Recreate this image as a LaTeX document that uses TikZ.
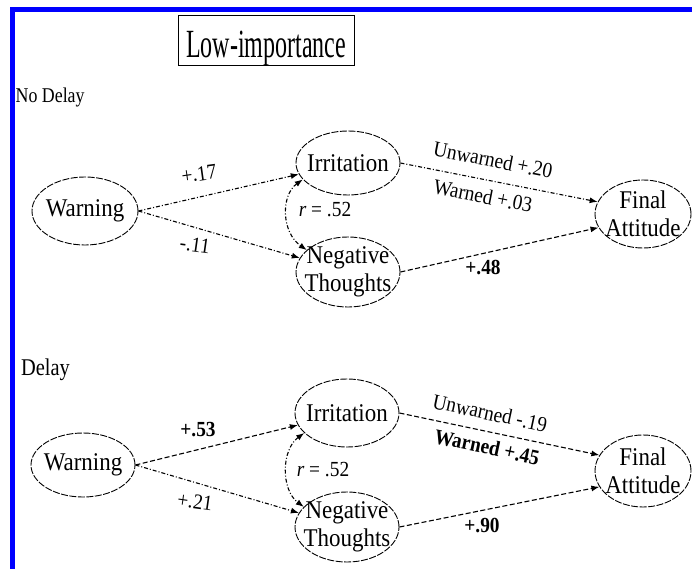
\documentclass[tikz,border=0pt]{standalone}
\usepackage{fontspec}
\setmainfont{Liberation Serif}
\newfontfamily\nf[FakeStretch=0.9]{Liberation Serif}
\newfontfamily\secfont[FakeStretch=0.85]{Liberation Serif}
\newfontfamily\ttlfont[FakeStretch=0.6]{Liberation Serif}
\usetikzlibrary{shapes.geometric,arrows.meta}
\definecolor{frameblue}{RGB}{0,0,255}
\begin{document}
\begin{tikzpicture}[x=1pt,y=-1pt,
  ell/.style={ellipse, draw, line width=0.9pt, dash pattern=on 7pt off 1.5pt, inner sep=0pt},
  inner/.style={font=\nf\fontsize{25.5}{28}\selectfont, align=center, inner sep=0pt},
  lbl/.style={font=\nf\fontsize{21.5}{23}\selectfont, inner sep=0pt},
  blbl/.style={font=\nf\bfseries\fontsize{21.5}{23}\selectfont, inner sep=0pt},
  tip/.style={-{Latex[length=8pt,width=6pt]}},
  sig/.style={draw, line width=1.1pt, dash pattern=on 5pt off 2.5pt, tip},
  nsig/.style={draw, line width=1.1pt, dash pattern=on 4pt off 2pt on 1pt off 2pt, tip},
  corr/.style={draw, line width=1.1pt, dash pattern=on 4pt off 2pt on 1pt off 2pt, {Latex[length=8pt,width=6pt]}-{Latex[length=8pt,width=6pt]}},
  sect/.style={font=\secfont\fontsize{21}{23}\selectfont, inner sep=0pt, anchor=base west}
]
\useasboundingbox (0,0) rectangle (692,569);
% blue frame
\fill[frameblue] (10,7) rectangle (692,12);
\fill[frameblue] (10,7) rectangle (15,569);

% title
\node[draw, line width=1pt, minimum width=176pt, minimum height=50pt, inner sep=0pt] (titlebox) at (266,41) {};
\node[anchor=base, inner sep=0pt, font=\ttlfont\fontsize{40}{44}\selectfont] (title) at (266,58) {Low-importance};

% ---------------- No Delay ----------------
\node[sect] (nodelay) at (15.5,103) {No Delay};
\node[ell, minimum width=106pt, minimum height=68pt, label={[inner]center:Warning}] (W1) at (85,211) {};
\node[ell, minimum width=104pt, minimum height=64pt, label={[inner]center:Irritation}] (I1) at (348,163) {};
\node[ell, minimum width=104pt, minimum height=70pt, label={[inner]center:Negative\\Thoughts}] (N1) at (348,272) {};
\node[ell, minimum width=96pt, minimum height=68pt, label={[inner]center:Final\\Attitude}] (F1) at (643,214) {};

\draw[nsig] (W1.east) -- (I1);
\draw[nsig] (W1.east) -- (N1);
\draw[corr] (I1.200) .. controls (281,195) and (281,232) .. (N1.152);
\draw[nsig] (I1.east) -- (F1.165);
\draw[sig] (N1.east) -- (F1.197);

\node[lbl, rotate=8] (l17) at (199,174) {+.17};
\node[lbl, rotate=-8] (l11) at (195,245) {-.11};
\node[lbl] (r1) at (325,210) {\textit{r} = .52};
\node[lbl, rotate=-11] (u1) at (493,160) {Unwarned +.20};
\node[lbl, rotate=-11] (w1) at (483,196) {Warned +.03};
\node[blbl] (l48) at (483,268) {+.48};

% ---------------- Delay ----------------
\node[sect, font=\secfont\fontsize{24}{26}\selectfont] (delay) at (21,375) {Delay};
\node[ell, minimum width=104pt, minimum height=64pt, label={[inner]center:Warning}] (W2) at (83,465) {};
\node[ell, minimum width=104pt, minimum height=68pt, label={[inner]center:Irritation}] (I2) at (347,413) {};
\node[ell, minimum width=104pt, minimum height=70pt, label={[inner]center:Negative\\Thoughts}] (N2) at (347,527) {};
\node[ell, minimum width=96pt, minimum height=72pt, label={[inner]center:Final\\Attitude}] (F2) at (643,471) {};

\draw[sig] (W2.east) -- (I2);
\draw[nsig] (W2.east) -- (N2);
\draw[corr] (I2.205) .. controls (281,450) and (281,490) .. (N2.155);
\draw[sig] (I2.east) -- (F2.160);
\draw[sig] (N2.east) -- (F2.200);

\node[blbl] (l53) at (198,430) {+.53};
\node[lbl, rotate=-8] (l21) at (195,502) {+.21};
\node[lbl] (r2) at (323,470) {\textit{r} = .52};
\node[lbl, rotate=-12] (u2) at (490,413) {Unwarned -.19};
\node[blbl, rotate=-12] (w2) at (487,447) {Warned +.45};
\node[blbl] (l90) at (482,525) {+.90};
\end{tikzpicture}
\end{document}
